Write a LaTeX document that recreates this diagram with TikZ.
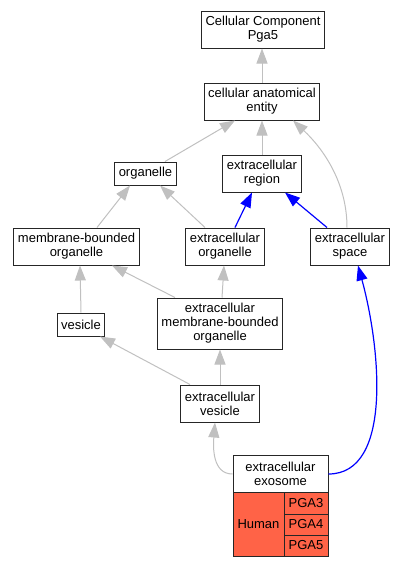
\documentclass[tikz,border=0pt]{standalone}
\usepackage{fontspec}
\setmainfont{Liberation Sans}
\usetikzlibrary{arrows.meta}
\definecolor{edgegray}{RGB}{192,192,192}
\definecolor{tomatored}{RGB}{255,99,71}
\begin{document}
\begin{tikzpicture}[x=1pt,y=-1pt,
    term/.style={draw=black!85, line width=1pt, fill=white, align=center, inner xsep=4pt, inner ysep=1pt,
        font=\fontsize{13}{14}\selectfont},
    one/.style={minimum height=23pt},
    two/.style={minimum height=37pt},
    three/.style={minimum height=51pt},
    cell/.style={draw=black!85, line width=1pt, fill=tomatored, inner sep=0pt, font=\fontsize{13}{14}\selectfont},
    isa/.style={draw=edgegray, line width=1pt, -{Triangle[length=15pt,width=11pt]}},
    partof/.style={draw=blue, line width=1.2pt, -{Triangle[length=15pt,width=11pt]}}]
        \useasboundingbox (0,0) rectangle (407,568);
        \node[term,two] (ccpga) at (263,29.5) {Cellular Component\\Pga5};
        \node[term,two] (cae) at (262,101.5) {cellular anatomical\\entity};
        \node[term,one] (org) at (145.5,173.5) {organelle};
        \node[term,two] (region) at (262,173.5) {extracellular\\region};
        \node[term,two] (mbo) at (76.5,246.5) {membrane-bounded\\organelle};
        \node[term,two] (eo) at (225,246.5) {extracellular\\organelle};
        \node[term,two] (space) at (350,246.5) {extracellular\\space};
        \node[term,one] (vesicle) at (81,324.5) {vesicle};
        \node[term,three] (embo) at (220,323.5) {extracellular\\membrane-bounded\\organelle};
        \node[term,two] (ev) at (220,403.5) {extracellular\\vesicle};
        \node[term,two,minimum width=95pt] (exosome) at (280.5,474) {extracellular\\exosome};
        \node[cell,minimum width=51pt,minimum height=64pt] (human) at (258.5,524) {Human};
        \node[cell,minimum width=44pt,minimum height=22pt] (pga3) at (306,503) {PGA3};
        \node[cell,minimum width=44pt,minimum height=21pt] (pga4) at (306,524.5) {PGA4};
        \node[cell,minimum width=44pt,minimum height=21pt] (pga5) at (306,545.5) {PGA5};
        \draw[isa] (cae.north) -- (cae.north |- ccpga.south);
        \draw[isa] ([xshift=19.5pt]org.north) -- ([xshift=-27pt]cae.south);
        \draw[isa] (region.north) -- (cae.south);
        \draw[isa] ([xshift=-3pt]space.north) .. controls +(0,-45) and +(30,28) .. ([xshift=31pt]cae.south);
        \draw[isa] ([xshift=20.5pt]mbo.north) -- ([xshift=-15.5pt]org.south);
        \draw[isa] ([xshift=-20pt]eo.north) -- ([xshift=14.5pt]org.south);
        \draw[partof] ([xshift=10pt]eo.north) -- ([xshift=-10pt]region.south);
        \draw[partof] ([xshift=-23pt]space.north) -- ([xshift=23pt]region.south);
        \draw[isa] (vesicle.north) -- ([xshift=3.5pt]mbo.south);
        \draw[isa] ([xshift=-45pt]embo.north) -- ([xshift=35.5pt]mbo.south);
        \draw[isa] ([xshift=2pt]embo.north) -- ([xshift=-1pt]eo.south);
        \draw[isa] ([xshift=-30pt]ev.north) -- ([xshift=19pt]vesicle.south);
        \draw[isa] (ev.north) -- (embo.south);
        \draw[isa] (exosome.west) .. controls +(-20,0) and +(-2,25) .. ([xshift=-5pt]ev.south);
        \draw[partof] (exosome.east) .. controls +(65,0) and +(22,80) .. ([xshift=8pt]space.south);
    \end{tikzpicture}
\end{document}
